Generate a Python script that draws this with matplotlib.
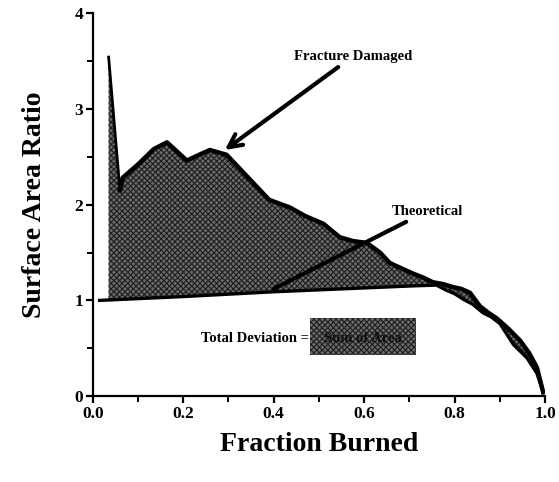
import numpy as np
import matplotlib.pyplot as plt
from matplotlib.ticker import MultipleLocator
from matplotlib.patches import Rectangle

# fraction burned vs surface area ratio
frac_damaged = [0.035, 0.060, 0.066, 0.10, 0.135, 0.164, 0.185, 0.208, 0.235, 0.259, 0.296,
                0.34, 0.39, 0.436, 0.47, 0.51, 0.546, 0.575, 0.606, 0.635, 0.657,
                0.68, 0.708, 0.73, 0.752, 0.775, 0.796, 0.815, 0.834, 0.856, 0.875,
                0.894, 0.92, 0.945, 0.965, 0.982, 0.996]
ratio_damaged = [3.54, 2.15, 2.28, 2.42, 2.58, 2.65, 2.56, 2.46, 2.52, 2.57, 2.52,
                 2.30, 2.05, 1.97, 1.88, 1.80, 1.66, 1.62, 1.60, 1.50, 1.39,
                 1.34, 1.28, 1.24, 1.19, 1.17, 1.14, 1.12, 1.08, 0.94, 0.87,
                 0.81, 0.70, 0.58, 0.45, 0.30, 0.04]

frac_theory = [0.015, 0.2, 0.4, 0.6, 0.70, 0.76, 0.78, 0.80, 0.82, 0.84, 0.863,
               0.88, 0.90, 0.93, 0.96, 0.982, 0.996]
ratio_theory = [1.00, 1.04, 1.09, 1.13, 1.15, 1.16, 1.11, 1.07, 1.01, 0.96, 0.87,
                0.83, 0.76, 0.54, 0.40, 0.24, 0.04]

serif = ['Liberation Serif', 'DejaVu Serif']
shade = dict(facecolor='#6a6a6a', edgecolor='#1e1e1e', hatch='xxxxxx', linewidth=0)
plt.rcParams['hatch.linewidth'] = 0.8

fig = plt.figure(figsize=(5.59, 4.82), dpi=100)
ax = fig.add_axes([0.166, 0.178, 0.809, 0.795])

# shaded deviation between the two curves
x_fill = np.array(frac_damaged)
theory_at = np.interp(x_fill, frac_theory, ratio_theory)
ax.fill_between(x_fill, theory_at, ratio_damaged, **shade)

# the initial spike is drawn thinner than the rest of the curve
ax.plot(frac_damaged[:2], ratio_damaged[:2], color='black', lw=2.0)
ax.plot(frac_damaged[1:], ratio_damaged[1:], color='black', lw=3.2, solid_joinstyle='round')
ax.plot(frac_theory, ratio_theory, color='black', lw=2.4)

ax.set_xlim(0, 1.0)
ax.set_ylim(0, 4)
for s in ['top', 'right']:
    ax.spines[s].set_visible(False)
for s in ['left', 'bottom']:
    ax.spines[s].set_linewidth(1.6)

ax.xaxis.set_minor_locator(MultipleLocator(0.1))
ax.yaxis.set_minor_locator(MultipleLocator(0.5))
ax.set_xticks([0, 0.2, 0.4, 0.6, 0.8, 1.0])
ax.set_xticklabels(['0.0', '0.2', '0.4', '0.6', '0.8', '1.0'])
ax.set_yticks([0, 1, 2, 3, 4])
ax.set_yticklabels(['0', '1', '2', '3', '4'])
ax.tick_params(which='major', length=5, width=1.6, labelsize=12.5, pad=2)
ax.tick_params(which='minor', length=4, width=1.4)
for lab in ax.get_xticklabels() + ax.get_yticklabels():
    lab.set_family(serif)
    lab.set_fontweight('bold')

ax.set_xlabel('Fraction Burned', family=serif, fontweight='bold', fontsize=20, labelpad=7)
ax.set_ylabel('Surface Area Ratio', family=serif, fontweight='bold', fontsize=20, labelpad=20)

ax.annotate('Fracture Damaged', xy=(0.292, 2.57), xytext=(0.445, 3.55),
            family=serif, fontweight='bold', fontsize=10.5, va='center', ha='left',
            arrowprops=dict(arrowstyle='->,head_length=0.9,head_width=0.45',
                            lw=3, color='black', shrinkA=2, shrinkB=0))
ax.annotate('Theoretical', xy=(0.40, 1.12), xytext=(0.66, 1.93),
            family=serif, fontweight='bold', fontsize=10.5, va='center', ha='left',
            arrowprops=dict(arrowstyle='-', lw=3, color='black', shrinkA=2, shrinkB=0))

ax.text(0.478, 0.60, 'Total Deviation =', family=serif, fontweight='bold',
        fontsize=10.5, ha='right', va='center')
ax.add_patch(Rectangle((0.48, 0.43), 0.235, 0.385, **shade))
ax.text(0.597, 0.60, 'Sum of Area', family=serif, fontweight='bold',
        fontsize=10.5, ha='center', va='center', color='#111111')

fig.savefig('out.png', dpi=100)
